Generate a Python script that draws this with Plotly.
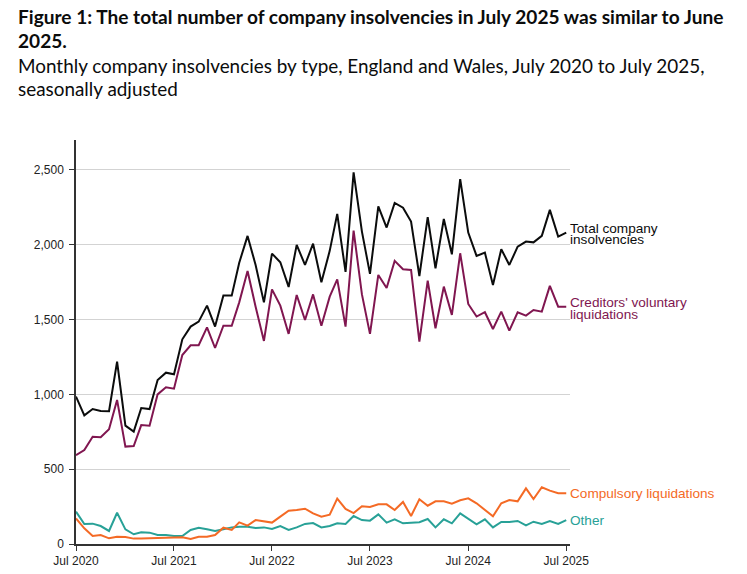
import plotly.graph_objects as go
import pandas as pd

months = pd.date_range("2020-07-01", periods=61, freq="MS")

total = [985, 860, 902, 889, 888, 1219, 791, 751, 909, 902,
         1096, 1145, 1134, 1368, 1453, 1486, 1593, 1453, 1660, 1660,
         1880, 2059, 1865, 1615, 1941, 1883, 1718, 1999, 1865, 2007,
         1749, 1959, 2206, 1818, 2484, 2088, 1805, 2257, 2115, 2279,
         2248, 2155, 1791, 2184, 1843, 2172, 1936, 2438, 2081, 1925,
         1947, 1731, 1970, 1865, 1987, 2021, 2016, 2059, 2233, 2054,
         2081]

cvl = [593, 628, 717, 713, 767, 963, 651, 655, 795, 791,
       1000, 1047, 1038, 1263, 1328, 1328, 1448, 1310, 1459, 1459,
       1615, 1825, 1586, 1357, 1702, 1593, 1404, 1664, 1497, 1668,
       1459, 1653, 1769, 1453, 2095, 1668, 1404, 1798, 1711, 1892,
       1836, 1832, 1352, 1760, 1442, 1720, 1531, 1943, 1604, 1520,
       1549, 1437, 1553, 1426, 1549, 1526, 1564, 1553, 1725, 1586,
       1586]

compulsory = [171, 105, 53, 60, 38, 49, 47, 36, 36, 38,
              38, 38, 42, 45, 33, 49, 49, 60, 109, 94,
              145, 123, 160, 149, 143, 183, 223, 227, 236, 205,
              183, 196, 303, 234, 207, 252, 247, 265, 265, 227,
              281, 187, 299, 256, 285, 285, 270, 292, 305, 272,
              227, 185, 272, 294, 285, 372, 301, 379, 357, 339,
              339]

other = [216, 134, 136, 120, 87, 209, 98, 65, 78, 76,
         60, 60, 53, 53, 94, 109, 98, 87, 98, 111,
         116, 116, 107, 111, 100, 120, 94, 111, 134, 140,
         111, 120, 138, 134, 187, 160, 156, 198, 143, 165,
         138, 140, 145, 167, 111, 165, 138, 205, 167, 131,
         165, 111, 147, 147, 154, 125, 149, 134, 154, 134,
         160]

series = [
    ("Total company insolvencies", total, "#0b0c0c"),
    ("Creditors' voluntary liquidations", cvl, "#801650"),
    ("Compulsory liquidations", compulsory, "#F46A25"),
    ("Other", other, "#28A197"),
]

labels = [
    ("Total company", 2111, "#0b0c0c"),
    ("insolvencies", 2036, "#0b0c0c"),
    ("Creditors' voluntary", 1612, "#801650"),
    ("liquidations", 1537, "#801650"),
    ("Compulsory liquidations", 339, "#F46A25"),
    ("Other", 154, "#28A197"),
]

tick_vals = [0, 500, 1000, 1500, 2000, 2500]

header_lines = [
    ("<b>Figure 1: The total number of company insolvencies in July 2025 was similar to June</b>", 9, 19.1),
    ("<b>2025.</b>", 32, 19.1),
    ("Monthly company insolvencies by type, England and Wales, July 2020 to July 2025,", 57, 18.9),
    ("seasonally adjusted", 80, 18.9),
]

W, H = 747, 574
OFF = 8  # page offset of the rendered figure
ML, MT = 76 - OFF, 140 - OFF
MR = W - (570 - OFF)
MB = H - (544 - OFF)
PH = H - MT - MB
PW = W - ML - MR

fig = go.Figure()
for name, vals, col in reversed(series):
    fig.add_trace(go.Scatter(x=months, y=vals, mode="lines", name=name,
                             line=dict(color=col, width=2)))

for text, yv, col in labels:
    fig.add_annotation(x=1, xref="paper", y=yv, yref="y", text=text,
                       showarrow=False, xanchor="left", yanchor="middle",
                       xshift=-2, font=dict(family="Liberation Sans, Arial", size=13.6, color=col))

for text, ypx, fs in header_lines:
    fig.add_annotation(x=(8 - ML) / PW, xref="paper", xanchor="left",
                       y=(H - MB - ypx) / PH, yref="paper", yanchor="middle",
                       text=text, showarrow=False,
                       font=dict(family="Lato", size=fs, color="#0b0c0c"))

fig.update_layout(
    width=W, height=H,
    paper_bgcolor="white", plot_bgcolor="white",
    showlegend=False,
    margin=dict(l=ML, r=MR, t=MT, b=MB, autoexpand=False),
    font=dict(family="Liberation Sans, Arial", size=12, color="#333333"),
)

fig.update_xaxes(
    range=["2020-07-01", "2025-07-15"],
    tick0="2020-07-01", dtick="M12", tickformat="%b %Y",
    showgrid=False, showline=True, linecolor="#333333", linewidth=1.5,
    ticks="outside", ticklen=5, tickcolor="#333333", tickwidth=1.2,
    tickfont=dict(size=12, color="#222222"), automargin=False,
)
fig.update_yaxes(
    range=[0, 2700], tickvals=tick_vals, tickformat=",",
    showgrid=True, gridcolor="#d3d3d3", gridwidth=1,
    showline=True, linecolor="#333333", linewidth=1.5,
    ticks="outside", ticklen=5, tickcolor="#333333", tickwidth=1.2,
    zeroline=False, ticklabelstandoff=3, automargin=False,
    tickfont=dict(size=12, color="#222222"),
)

fig.write_html("out.html")
